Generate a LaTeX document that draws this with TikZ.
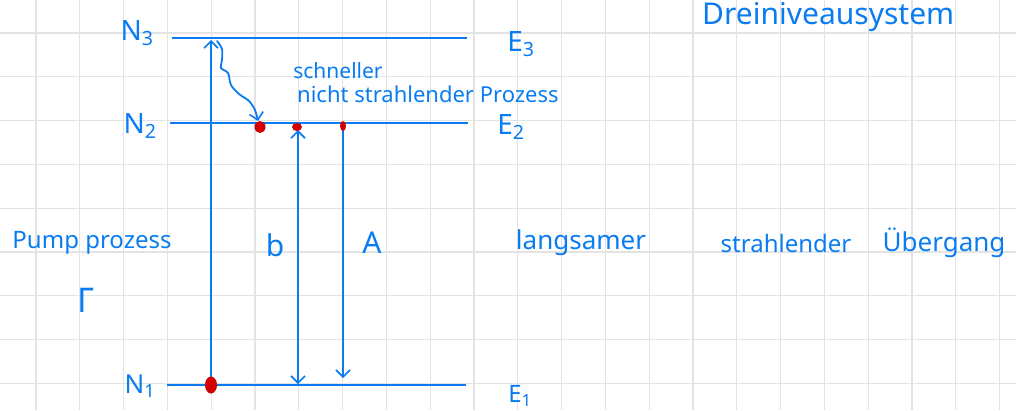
\documentclass[tikz,border=0pt]{standalone}
\usepackage{fontspec}
\setmainfont{Noto Sans}
\usetikzlibrary{arrows.meta,shapes.geometric}
\definecolor{ink}{HTML}{0A7CF2}
\definecolor{dotred}{HTML}{D00000}
\definecolor{gridgray}{HTML}{E3E3E3}
\tikzset{
  gridline/.style={draw=gridgray, line width=1.3pt},
  level/.style={draw=ink, line width=2pt},
  inkline/.style={draw=ink, line width=1.8pt, line cap=round, line join=round},
  barb/.style={-{Straight Barb[length=7pt,width=14pt,line width=1.6pt]}},
  lbl/.style={text=ink, inner sep=0pt},
  reddot/.style={fill=dotred, draw=none, ellipse, inner sep=0pt},
}
\begin{document}
\begin{tikzpicture}[x=1pt,y=-1pt]
\useasboundingbox (0,0) rectangle (1016,410);
% paper grid
\foreach \i in {0,...,22} \draw[gridline] ({36+43.8*\i},0) -- ({36+43.8*\i},410);
\foreach \j in {0,...,8} \draw[gridline] (0,{33+43.8*\j}) -- (1016,{33+43.8*\j});
% energy levels
\coordinate (E3l) at (172,38); \coordinate (E3r) at (467,38);
\coordinate (E2l) at (170,123); \coordinate (E2r) at (468,123);
\coordinate (E1l) at (167,385); \coordinate (E1r) at (466,385);
\draw[level] (E3l) -- (E3r);
\draw[level] (E2l) -- (E2r);
\draw[level] (E1l) -- (E1r);
% labels
\node[lbl, font=\fontsize{28}{28}\selectfont] (N3) at (137,33) {N\textsubscript{3}};
\node[lbl, font=\fontsize{28}{28}\selectfont] (N2) at (140,126) {N\textsubscript{2}};
\node[lbl, font=\fontsize{26}{26}\selectfont] (N1) at (140,386) {N\textsubscript{1}};
\node[lbl, font=\fontsize{28}{28}\selectfont] (E3n) at (521,44) {E\textsubscript{3}};
\node[lbl, font=\fontsize{28}{28}\selectfont] (E2n) at (511,127) {E\textsubscript{2}};
\node[lbl, font=\fontsize{24}{24}\selectfont] (E1n) at (520,396) {E\textsubscript{1}};
% pump
\coordinate (pb) at (211,385); \coordinate (pt) at (211,40);
\draw[inkline, barb] (pb) -- (pt);
% fast non-radiative decay
\coordinate (w0) at (217,41); \coordinate (w9) at (258,121);
\draw[inkline, barb] plot[smooth, tension=0.5] coordinates {(w0) (222,49) (222,60) (221,68) (228,73) (231,85) (239,94) (249,101) (255,110) (w9)};
% b and A transitions
\coordinate (bt) at (298,130); \coordinate (bb) at (298,384);
\draw[inkline, {Straight Barb[length=7pt,width=14pt,line width=1.6pt]}-{Straight Barb[length=7pt,width=14pt,line width=1.6pt]}] (bt) -- (bb);
\coordinate (at) at (343,128); \coordinate (ab) at (343,378);
\draw[inkline, barb] (at) -- (ab);
% populations
\node[reddot, minimum width=11pt, minimum height=12pt] (d1) at (260,127) {};
\node[reddot, minimum width=10pt, minimum height=8pt] (d2) at (297,127) {};
\node[reddot, minimum width=6pt, minimum height=10pt] (d3) at (343,126) {};
\node[reddot, minimum width=12pt, minimum height=17pt] (d0) at (211,385) {};
% texts
\node[lbl, font=\fontsize{21}{21}\selectfont] (t1) at (338,71) {schneller};
\node[lbl, font=\fontsize{22}{22}\selectfont, anchor=west] (t2) at (297,94) {nicht strahlender Prozess};
\node[lbl, font=\fontsize{24}{24}\selectfont] (pump) at (92,243) {Pump prozess};
\node[lbl, font=\fontsize{34}{34}\selectfont] (gam) at (86,300) {Γ};
\node[lbl, font=\fontsize{30}{30}\selectfont] (bl) at (275,245) {b};
\node[lbl, font=\fontsize{30}{30}\selectfont] (Al) at (372,243) {A};
\node[lbl, font=\fontsize{26}{26}\selectfont] (l1) at (581,243) {langsamer};
\node[lbl, font=\fontsize{24}{24}\selectfont] (l2) at (786,243) {strahlender};
\node[lbl, font=\fontsize{26}{26}\selectfont] (l3) at (944,243) {Übergang};
\node[lbl, font=\fontsize{30}{30}\selectfont, anchor=base west] (title) at (702,24) {Dreiniveausystem};
\end{tikzpicture}
\end{document}
